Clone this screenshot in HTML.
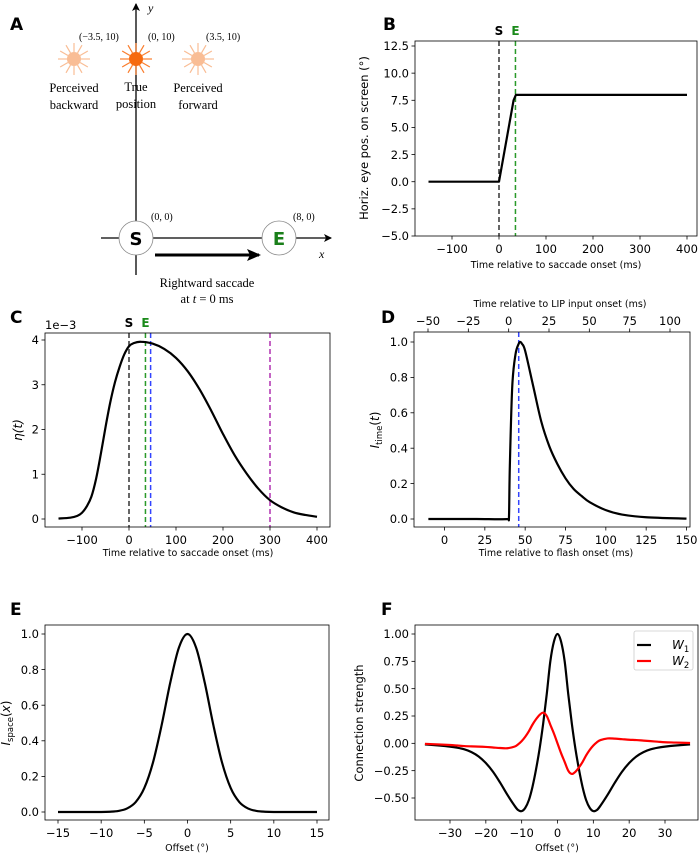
<!DOCTYPE html>
<html><head><meta charset="utf-8">
<style>
html,body{margin:0;padding:0;background:#fff;}
svg{display:block;font-family:"DejaVu Sans","Liberation Sans",sans-serif;}
.serif{font-family:"Liberation Serif","DejaVu Serif",serif;}
</style></head>
<body>
<svg id="fig" width="700" height="853" viewBox="0 0 700 853" xmlns="http://www.w3.org/2000/svg">
<defs>
<marker id="arr" markerWidth="8" markerHeight="8" refX="7" refY="4" orient="auto" markerUnits="userSpaceOnUse"><path d="M0,0 L8,4 L0,8 L2,4 Z" fill="#000"/></marker>
<marker id="arr2" markerWidth="14" markerHeight="12" refX="12" refY="6" orient="auto" markerUnits="userSpaceOnUse"><path d="M0,0 L14,6 L0,12 L3,6 Z" fill="#000"/></marker>
</defs>
<!-- Panel A -->
<g>
<text x="10" y="30" font-size="17" font-weight="bold">A</text>
<line x1="136" y1="275" x2="136" y2="4" stroke="#000" stroke-width="1.3" marker-end="url(#arr)"/>
<text x="148" y="12" class="serif" font-size="12" font-style="italic">y</text>
<line x1="101" y1="238" x2="331" y2="238" stroke="#000" stroke-width="1.3" marker-end="url(#arr)"/>
<text x="319" y="258" class="serif" font-size="12" font-style="italic">x</text>
<circle cx="136" cy="238" r="17" fill="#fff" stroke="#888" stroke-width="0.8"/>
<text x="136" y="245" font-size="18" font-weight="bold" text-anchor="middle">S</text>
<circle cx="279" cy="238" r="17" fill="#fff" stroke="#888" stroke-width="0.8"/>
<text x="279" y="245" font-size="18" font-weight="bold" text-anchor="middle" fill="#1a7f1a">E</text>
<line x1="155" y1="255" x2="259" y2="255" stroke="#000" stroke-width="3" marker-end="url(#arr2)"/>
<text x="151" y="220" class="serif" font-size="10">(0, 0)</text>
<text x="293" y="220" class="serif" font-size="10">(8, 0)</text>
<text x="207" y="287" class="serif" font-size="12.5" text-anchor="middle">Rightward saccade</text>
<text x="207" y="303" class="serif" font-size="12.5" text-anchor="middle">at <tspan font-style="italic">t</tspan> = 0 ms</text>
<g id="suns"></g>
<text x="79" y="40" class="serif" font-size="10">(−3.5, 10)</text>
<text x="148" y="40" class="serif" font-size="10">(0, 10)</text>
<text x="206" y="40" class="serif" font-size="10">(3.5, 10)</text>
<text x="74" y="92" class="serif" font-size="12.5" text-anchor="middle"><tspan x="74">Perceived</tspan><tspan x="74" dy="17">backward</tspan></text>
<text x="136" y="91" class="serif" font-size="12.5" text-anchor="middle"><tspan x="136">True</tspan><tspan x="136" dy="17">position</tspan></text>
<text x="198" y="92" class="serif" font-size="12.5" text-anchor="middle"><tspan x="198">Perceived</tspan><tspan x="198" dy="17">forward</tspan></text>
</g>
<g id="plots"></g>
</svg>
<script>
// ---- Data ----
const bTime = [-150, 0, 31, 36, 400];
const bPos = [0, 0, 7.5, 8, 8];
const bYTicks = [-5, -2.5, 0, 2.5, 5, 7.5, 10, 12.5];
const bXTicks = [-100, 0, 100, 200, 300, 400];

const cTime = [-150,-125,-110,-100,-90,-80,-70,-60,-50,-40,-30,-20,-10,0,10,25,50,75,100,125,150,175,200,225,250,275,300,325,350,375,400];
const cEta = [0.01,0.03,0.07,0.14,0.28,0.5,0.9,1.45,2.05,2.6,3.05,3.4,3.68,3.86,3.93,3.96,3.92,3.8,3.6,3.3,2.9,2.42,1.9,1.42,1.02,0.68,0.42,0.26,0.15,0.09,0.05];
const cYTicks = [0, 1, 2, 3, 4];
const cXTicks = [-100, 0, 100, 200, 300, 400];
const cMarkers = [0, 35, 46, 300];

const dTime = [-10,0,20,39.5,40,40.5,42,44,46,47,48,50,55,60,65,70,75,80,85,90,100,110,125,150];
const dI = [0,0,0,0,0.02,0.3,0.75,0.93,0.99,1.0,0.99,0.95,0.75,0.55,0.41,0.31,0.23,0.17,0.13,0.095,0.05,0.025,0.01,0.002];
const dYTicks = [0, 0.2, 0.4, 0.6, 0.8, 1.0];
const dXTicks = [0, 25, 50, 75, 100, 125, 150];
const dTopTicks = [-50, -25, 0, 25, 50, 75, 100];
const dMarker = 46;

const eX = [-15,-12,-10,-9,-8,-7,-6,-5,-4,-3,-2,-1,0,1,2,3,4,5,6,7,8,9,10,12,15];
const eI = [0,0,0,0.0015,0.006,0.02,0.056,0.135,0.278,0.487,0.726,0.923,1,0.923,0.726,0.487,0.278,0.135,0.056,0.02,0.006,0.0015,0,0,0];
const eYTicks = [0, 0.2, 0.4, 0.6, 0.8, 1.0];
const eXTicks = [-15, -10, -5, 0, 5, 10, 15];

const fX = [-37,-33,-30,-28,-26,-24,-22,-20,-18,-16,-14,-12,-11,-10,-9,-8,-7,-6,-5,-4,-3,-2,-1,0,1,2,3,4,5,6,7,8,9,10,11,12,14,16,18,20,22,24,26,28,30,33,37];
const fW1 = [-0.01,-0.02,-0.03,-0.04,-0.055,-0.08,-0.12,-0.18,-0.26,-0.36,-0.47,-0.57,-0.61,-0.62,-0.59,-0.52,-0.40,-0.24,-0.05,0.18,0.45,0.75,0.93,1,0.93,0.75,0.45,0.18,-0.05,-0.24,-0.40,-0.52,-0.59,-0.62,-0.61,-0.57,-0.47,-0.36,-0.26,-0.18,-0.12,-0.08,-0.055,-0.04,-0.03,-0.02,-0.01];
const fW2 = [-0.005,-0.01,-0.015,-0.02,-0.025,-0.028,-0.03,-0.033,-0.038,-0.043,-0.045,-0.03,-0.01,0.02,0.06,0.11,0.17,0.22,0.26,0.28,0.25,0.17,0.09,0,-0.09,-0.17,-0.25,-0.28,-0.26,-0.22,-0.17,-0.11,-0.06,-0.02,0.01,0.03,0.045,0.043,0.038,0.033,0.03,0.025,0.02,0.015,0.01,0.007,0.003];
const fYTicks = [-0.5, -0.25, 0, 0.25, 0.5, 0.75, 1.0];
const fXTicks = [-30, -20, -10, 0, 10, 20, 30];

const NS = 'http://www.w3.org/2000/svg';
const root = document.getElementById('plots');
const TICK = 11.5, TITLE = 9.5;
function mk(tag, attrs, parent) {
  const e = document.createElementNS(NS, tag);
  for (const k in attrs) e.setAttribute(k, attrs[k]);
  (parent || root).appendChild(e);
  return e;
}
function txt(s, attrs, parent) { const e = mk('text', attrs, parent); e.textContent = s; return e; }
function lin(d0, d1, r0, r1) { return v => r0 + (v - d0) * (r1 - r0) / (d1 - d0); }
function smoothPath(px, py) {
  let d = 'M' + px[0].toFixed(2) + ',' + py[0].toFixed(2);
  for (let i = 0; i < px.length - 1; i++) {
    const x0 = px[Math.max(i-1,0)], y0 = py[Math.max(i-1,0)];
    const x1 = px[i], y1 = py[i], x2 = px[i+1], y2 = py[i+1];
    const x3 = px[Math.min(i+2,px.length-1)], y3 = py[Math.min(i+2,px.length-1)];
    let c1x = x1 + (x2 - x0) / 6, c1y = y1 + (y2 - y0) / 6;
    let c2x = x2 - (x3 - x1) / 6, c2y = y2 - (y3 - y1) / 6;
    c1x = Math.min(Math.max(c1x, x1), x2); c2x = Math.min(Math.max(c2x, x1), x2);
    d += ' C' + c1x.toFixed(2) + ',' + c1y.toFixed(2) + ' ' + c2x.toFixed(2) + ',' + c2y.toFixed(2) + ' ' + x2.toFixed(2) + ',' + y2.toFixed(2);
  }
  return d;
}
function fmt(v, dec) { const s = v.toFixed(dec); return s.replace('-', '−'); }

function axes(name) {
  const g = mk('g', {});
  
  
  return g;
}
function frame(g, b) {
  const r = mk('rect', {x: b.l, y: b.t, width: b.r - b.l, height: b.b - b.t, fill: 'none', stroke: '#000', 'stroke-width': 0.8}, g);
  
  
}
function yTicks(g, b, ticks, sy, dec) {
  ticks.forEach(v => {
    const y = sy(v);
    mk('line', {x1: b.l - 3.5, x2: b.l, y1: y, y2: y, stroke: '#000', 'stroke-width': 0.8}, g);
    const t = txt(fmt(v, dec), {x: b.l - 6, y: y + 4.2, 'font-size': TICK, 'text-anchor': 'end'}, g);
    
    
  });
}
function xTicks(g, b, ticks, sx, dec) {
  ticks.forEach(v => {
    const x = sx(v);
    mk('line', {x1: x, x2: x, y1: b.b, y2: b.b + 3.5, stroke: '#000', 'stroke-width': 0.8}, g);
    const t = txt(fmt(v, dec), {x: x, y: b.b + 17, 'font-size': TICK, 'text-anchor': 'middle'}, g);
    
    
  });
}
function vline(g, b, x, color, name) {
  const l = mk('line', {x1: x, x2: x, y1: b.t, y2: b.b, stroke: color, 'stroke-width': 1.5, 'stroke-dasharray': '5,3'}, g);
  
  
}
function curve(g, xs, ys, sx, sy, color, name, smooth) {
  const px = xs.map(sx), py = ys.map(sy);
  const d = smooth ? smoothPath(px, py) : 'M' + px.map((x, i) => x.toFixed(2) + ',' + py[i].toFixed(2)).join(' L');
  const p = mk('path', {d: d, fill: 'none', stroke: color, 'stroke-width': 2.2, 'stroke-linejoin': 'round'}, g);
  
  
}
function label(g, s, x, y, size, extra, name) {
  const t = txt(s, Object.assign({x: x, y: y, 'font-size': size}, extra || {}), g);
  
  
  return t;
}

// suns
(function () {
  const sg = document.getElementById('suns');
  [[74, '#f9bd95', '#f9bd95'], [136, '#f66a0f', '#fa7d2d'], [198, '#f9bd95', '#f9bd95']].forEach(([cx, fill, ray], i) => {
    const g = mk('g', {}, sg);
    
    
    for (let k = 0; k < 12; k++) {
      const a = k * Math.PI / 6;
      mk('line', {x1: cx + 7 * Math.cos(a), y1: 59 + 7 * Math.sin(a), x2: cx + 16 * Math.cos(a), y2: 59 + 16 * Math.sin(a), stroke: ray, 'stroke-width': 1.2}, g);
    }
    mk('circle', {cx: cx, cy: 59, r: 7, fill: fill}, g);
  });
})();

// Panel B
(function () {
  const b = {l: 415, r: 697, t: 41, b: 236};
  const g = axes('panel-b-eye-position');
  const sx = lin(-100, 400, 452, 687), sy = lin(-5, 12.5, 236, 46);
  label(g, 'B', 383, 30, 17, {'font-weight': 'bold'}, 'panel-label-b');
  vline(g, b, sx(0), '#333', 'saccade-start-line');
  vline(g, b, sx(35), '#2a9a2a', 'saccade-end-line');
  curve(g, bTime, bPos, sx, sy, '#000', 'eye-position-line', false);
  frame(g, b);
  yTicks(g, b, bYTicks, sy, 1);
  xTicks(g, b, bXTicks, sx, 0);
  label(g, 'S', sx(0), 35, 12, {'font-weight': 'bold', 'text-anchor': 'middle'}, 'saccade-start-marker');
  label(g, 'E', sx(35), 35, 12, {'font-weight': 'bold', 'text-anchor': 'middle', fill: '#1a8a1a'}, 'saccade-end-marker');
  label(g, 'Time relative to saccade onset (ms)', 556, 268, TITLE, {'text-anchor': 'middle'}, 'x-axis-title');
  label(g, 'Horiz. eye pos. on screen (°)', 0, 0, 11.5, {'text-anchor': 'middle', transform: 'translate(368,138) rotate(-90)'}, 'y-axis-title');
})();

// Panel C
(function () {
  const b = {l: 45, r: 330, t: 333, b: 527};
  const g = axes('panel-c-eta');
  const sx = lin(-100, 400, 82, 317), sy = lin(0, 4, 519, 340);
  label(g, 'C', 10, 323, 17, {'font-weight': 'bold'}, 'panel-label-c');
  const cols = ['#333', '#2a9a2a', '#3344ff', '#b030b0'];
  const names = ['saccade-start-line', 'saccade-end-line', 'flash-line', 'late-marker-line'];
  cMarkers.forEach((m, i) => vline(g, b, sx(m), cols[i], names[i]));
  curve(g, cTime, cEta, sx, sy, '#000', 'eta-curve', true);
  frame(g, b);
  yTicks(g, b, cYTicks, sy, 0);
  xTicks(g, b, cXTicks, sx, 0);
  label(g, '1e−3', 45, 329, TICK, {}, 'y-scale-offset');
  label(g, 'S', sx(0), 327, 12, {'font-weight': 'bold', 'text-anchor': 'middle'}, 'saccade-start-marker');
  label(g, 'E', sx(35), 327, 12, {'font-weight': 'bold', 'text-anchor': 'middle', fill: '#1a8a1a'}, 'saccade-end-marker');
  label(g, 'Time relative to saccade onset (ms)', 188, 556, TITLE, {'text-anchor': 'middle'}, 'x-axis-title');
  label(g, 'η(t)', 0, 0, 12, {'text-anchor': 'middle', 'font-style': 'italic', transform: 'translate(22,430) rotate(-90)'}, 'y-axis-title');
})();

// Panel D
(function () {
  const b = {l: 414, r: 690, t: 332, b: 527};
  const g = axes('panel-d-temporal-input');
  const sx = lin(0, 150, 444.5, 686.5), sy = lin(0, 1, 519, 342);
  const stop = lin(-50, 100, 428, 670);
  label(g, 'D', 381, 323, 17, {'font-weight': 'bold'}, 'panel-label-d');
  vline(g, b, sx(dMarker), '#3344ff', 'peak-line');
  curve(g, dTime, dI, sx, sy, '#000', 'temporal-input-curve', true);
  frame(g, b);
  yTicks(g, b, dYTicks, sy, 1);
  xTicks(g, b, dXTicks, sx, 0);
  dTopTicks.forEach(v => {
    const x = stop(v);
    mk('line', {x1: x, x2: x, y1: b.t, y2: b.t - 3.5, stroke: '#000', 'stroke-width': 0.8}, g);
    const t = txt(fmt(v, 0), {x: x, y: b.t - 7, 'font-size': TICK, 'text-anchor': 'middle'}, g);
    
    
  });
  label(g, 'Time relative to LIP input onset (ms)', 560, 307, TITLE, {'text-anchor': 'middle'}, 'top-x-axis-title');
  label(g, 'Time relative to flash onset (ms)', 556, 556, TITLE, {'text-anchor': 'middle'}, 'x-axis-title');
  const yl = label(g, '', 0, 0, 12, {'text-anchor': 'middle', transform: 'translate(379,430) rotate(-90)'}, 'y-axis-title');
  yl.innerHTML = '<tspan font-style="italic">I</tspan><tspan font-size="8.5" dy="3">time</tspan><tspan dy="-3">(</tspan><tspan font-style="italic">t</tspan><tspan>)</tspan>';
})();

// Panel E
(function () {
  const b = {l: 45, r: 329, t: 625, b: 820};
  const g = axes('panel-e-spatial-input');
  const sx = lin(-15, 15, 58, 317), sy = lin(0, 1, 812, 634);
  label(g, 'E', 10, 615, 17, {'font-weight': 'bold'}, 'panel-label-e');
  curve(g, eX, eI, sx, sy, '#000', 'spatial-input-curve', true);
  frame(g, b);
  yTicks(g, b, eYTicks, sy, 1);
  xTicks(g, b, eXTicks, sx, 0);
  label(g, 'Offset (°)', 187, 851, TITLE, {'text-anchor': 'middle'}, 'x-axis-title');
  const yl = label(g, '', 0, 0, 12, {'text-anchor': 'middle', transform: 'translate(10,723) rotate(-90)'}, 'y-axis-title');
  yl.innerHTML = '<tspan font-style="italic">I</tspan><tspan font-size="8.5" dy="3">space</tspan><tspan dy="-3">(</tspan><tspan font-style="italic">x</tspan><tspan>)</tspan>';
})();

// Panel F
(function () {
  const b = {l: 415, r: 698, t: 625, b: 820};
  const g = axes('panel-f-connection-weights');
  const sx = lin(-30, 30, 450, 665), sy = lin(-0.5, 1, 798, 634);
  label(g, 'F', 381, 615, 17, {'font-weight': 'bold'}, 'panel-label-f');
  curve(g, fX, fW1, sx, sy, '#000', 'w1-curve', true);
  curve(g, fX, fW2, sx, sy, '#ff0000', 'w2-curve', true);
  frame(g, b);
  yTicks(g, b, fYTicks, sy, 2);
  xTicks(g, b, fXTicks, sx, 0);
  label(g, 'Offset (°)', 557, 851, TITLE, {'text-anchor': 'middle'}, 'x-axis-title');
  label(g, 'Connection strength', 0, 0, 11.5, {'text-anchor': 'middle', transform: 'translate(363,723) rotate(-90)'}, 'y-axis-title');
  const lg = mk('g', {}, g);
  
  
  mk('rect', {x: 634, y: 631, width: 59, height: 39, rx: 2, fill: '#fff', stroke: '#ccc', 'stroke-width': 0.8}, lg);
  [['#000', '1', 645], ['#ff0000', '2', 661]].forEach(([c, n, y]) => {
    const e = mk('g', {}, lg);
    
    
    mk('line', {x1: 637, x2: 651, y1: y, y2: y, stroke: c, 'stroke-width': 2.2}, e);
    const t = txt('', {x: 672, y: y + 4, 'font-size': 12}, e);
    t.innerHTML = '<tspan font-style="italic">W</tspan><tspan font-size="8.5" dy="3">' + n + '</tspan>';
  });
})();
</script>
</body></html>
